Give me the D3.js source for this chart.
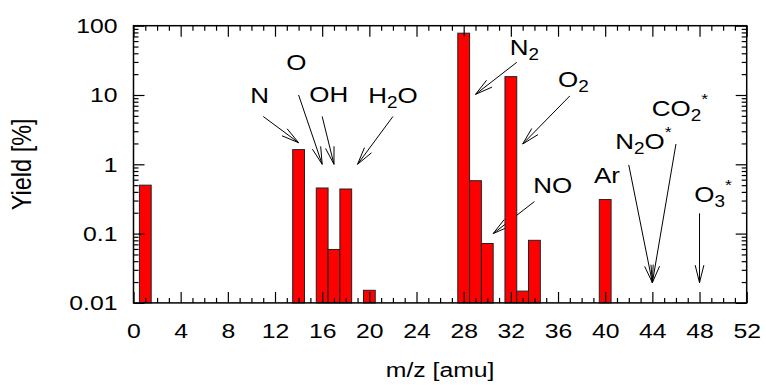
<!DOCTYPE html>
<html>
<head>
<meta charset="utf-8">
<script src="https://cdn.jsdelivr.net/npm/d3@7"></script>
<style>
  html, body { margin: 0; padding: 0; background: #fff; }
  svg { display: block; }
  text { font-family: "Liberation Sans", Arial, sans-serif; fill: #000; }
</style>
</head>
<body>
<svg id="chart" width="766" height="385"></svg>
<script>
// Mass spectrum yields (bar per m/z)
const massValues  = [1, 14, 16, 17, 18, 20, 28, 29, 30, 32, 33, 34, 40];
const yieldValues = [0.5, 1.63, 0.455, 0.059, 0.44, 0.0152, 78, 0.58, 0.072, 18.4, 0.0148, 0.08, 0.31];

// Axis ticks
const xMajorTicks = [0, 4, 8, 12, 16, 20, 24, 28, 32, 36, 40, 44, 48, 52];
const yMajorTicks = [0.01, 0.1, 1, 10, 100];
const yTickLabels = ["0.01", "0.1", "1", "10", "100"];

// Species annotations: label text, label anchor (data units), arrow start and tip
const labelNames = ["N", "O", "OH", "H2O", "N2", "O2", "NO", "Ar", "N2O*", "CO2*", "O3*"];
const labelX     = [9.9, 12.95, 14.9, 19.9, 31.9, 36.0, 33.9, 39.05, 40.85, 43.95, 47.55];
const labelY     = [7.6, 23, 8.0, 7.7, 37.8, 13.2, 0.39, 0.54, 1.64, 5.0, 0.29];
const arrowFromX = [11, 14, 16, 22, 32.5, 37, 34, 42, 46, 48];
const arrowFromY = [4.9, 10, 4.9, 4.9, 29.6, 9.7, 0.29, 0.98, 1.96, 0.196];
const arrowToX   = [14, 16, 17, 19, 29, 33, 30.5, 44, 44, 48];
const arrowToY   = [2.05, 1.0, 1.0, 1.0, 10.2, 1.96, 0.1, 0.0196, 0.0196, 0.0196];

const margin = { left: 133.5, right: 766 - 746.7, top: 25.7, bottom: 385 - 302.9 };
const W = 766, H = 385;
const stretch = 1.18;   // horizontal glyph stretch used for all text

const svg = d3.select("#chart");
const x = d3.scaleLinear().domain([0, 52]).range([margin.left, W - margin.right]);
const y = d3.scaleLog().domain([0.01, 100]).range([H - margin.bottom, margin.top]);

const plot = svg.append("g");

// Arrows (drawn first so the bars sit over them)
const arrows = plot.append("g").attr("stroke", "#000").attr("stroke-width", 1).attr("fill", "none");
arrowFromX.forEach((_, i) => {
  const x0 = x(arrowFromX[i]), y0 = y(arrowFromY[i]);
  const x1 = x(arrowToX[i]),   y1 = y(arrowToY[i]);
  arrows.append("line").attr("x1", x0).attr("y1", y0).attr("x2", x1).attr("y2", y1);
  const ang = Math.atan2(y1 - y0, x1 - x0);
  const len = 18, spread = 14 * Math.PI / 180;
  const p = d3.path();
  p.moveTo(x1 - len * Math.cos(ang - spread), y1 - len * Math.sin(ang - spread));
  p.lineTo(x1, y1);
  p.lineTo(x1 - len * Math.cos(ang + spread), y1 - len * Math.sin(ang + spread));
  arrows.append("path").attr("d", p.toString());
});

// Bars, one m/z unit wide, rising from the bottom of the log axis
plot.append("g")
  .selectAll("rect")
  .data(massValues.map((m, i) => ({ m, v: yieldValues[i] })))
  .join("rect")
  .attr("x", d => x(d.m - 0.5))
  .attr("width", d => x(d.m + 0.5) - x(d.m - 0.5))
  .attr("y", d => y(d.v))
  .attr("height", d => y(0.01) - y(d.v))
  .attr("fill", "#ff0000")
  .attr("stroke", "#222")
  .attr("stroke-width", 1);

// Species labels: digits become subscripts, "*" a superscript
const labels = plot.append("g").attr("font-size", 22);
labelNames.forEach((name, i) => {
  const t = labels.append("text")
    .attr("transform", `translate(${x(labelX[i])},${y(labelY[i])}) scale(${stretch},1)`);
  let shift = 0;
  for (const ch of name) {
    let target = 0, size = 22;
    if (/[0-9]/.test(ch)) { target = 5; size = 16; }
    else if (ch === "*") { target = -12; size = 15; }
    t.append("tspan").attr("dy", target - shift).attr("font-size", size).text(ch);
    shift = target;
  }
});

// Axes with inward ticks on all four sides
const xMinor = d3.range(0, 53).filter(v => v % 4 !== 0);
const yMinor = [];
for (const d of [0.01, 0.1, 1, 10]) for (let k = 2; k <= 9; k++) yMinor.push(+(d * k).toPrecision(3));

const axisFont = g => g.attr("font-family", '"Liberation Sans", Arial, sans-serif').attr("font-size", 21);
const bottomY = H - margin.bottom, rightX = W - margin.right;

svg.append("g").attr("transform", `translate(0,${bottomY})`)
  .call(d3.axisBottom(x).tickValues(xMinor).tickSize(-5).tickSizeOuter(0).tickFormat(""))
  .call(g => g.select(".domain").remove());
svg.append("g").attr("transform", `translate(0,${bottomY})`)
  .call(d3.axisBottom(x).tickValues(xMajorTicks).tickSize(-11).tickSizeOuter(0).tickPadding(20).tickFormat(d3.format("d")))
  .call(axisFont)
  .call(g => g.select(".domain").remove())
  .call(g => g.selectAll("text").attr("transform", `scale(${stretch},1)`).attr("fill", "#000"));
svg.append("g").attr("transform", `translate(0,${margin.top})`)
  .call(d3.axisTop(x).tickValues(xMinor).tickSize(-5).tickSizeOuter(0).tickFormat(""))
  .call(g => g.select(".domain").remove());
svg.append("g").attr("transform", `translate(0,${margin.top})`)
  .call(d3.axisTop(x).tickValues(xMajorTicks).tickSize(-11).tickSizeOuter(0).tickFormat(""))
  .call(g => g.select(".domain").remove());

svg.append("g").attr("transform", `translate(${margin.left},0)`)
  .call(d3.axisLeft(y).tickValues(yMinor).tickSize(-5).tickSizeOuter(0).tickFormat(""))
  .call(g => g.select(".domain").remove());
svg.append("g").attr("transform", `translate(${margin.left},0)`)
  .call(d3.axisLeft(y).tickValues(yMajorTicks).tickSize(-11).tickSizeOuter(0).tickPadding(13.6)
    .tickFormat((d, i) => yTickLabels[i]))
  .call(axisFont)
  .call(g => g.select(".domain").remove())
  .call(g => g.selectAll("text").attr("transform", `scale(${stretch},1)`).attr("fill", "#000"));
svg.append("g").attr("transform", `translate(${rightX},0)`)
  .call(d3.axisRight(y).tickValues(yMinor).tickSize(-5).tickSizeOuter(0).tickFormat(""))
  .call(g => g.select(".domain").remove());
svg.append("g").attr("transform", `translate(${rightX},0)`)
  .call(d3.axisRight(y).tickValues(yMajorTicks).tickSize(-11).tickSizeOuter(0).tickFormat(""))
  .call(g => g.select(".domain").remove());

svg.selectAll(".tick line").attr("stroke", "#000").attr("stroke-width", 1.2);

// Plot frame
svg.append("rect")
  .attr("x", margin.left).attr("y", margin.top)
  .attr("width", rightX - margin.left).attr("height", bottomY - margin.top)
  .attr("fill", "none").attr("stroke", "#000").attr("stroke-width", 1.5);

// Axis titles
svg.append("text")
  .attr("transform", `translate(${(margin.left + rightX) / 2},377) scale(${stretch},1)`)
  .attr("text-anchor", "middle").attr("font-size", 21)
  .text("m/z [amu]");
svg.append("text")
  .attr("transform", `translate(31,${(margin.top + bottomY) / 2}) rotate(-90) scale(1,${stretch})`)
  .attr("text-anchor", "middle").attr("font-size", 23.5)
  .text("Yield [%]");
</script>
</body>
</html>
